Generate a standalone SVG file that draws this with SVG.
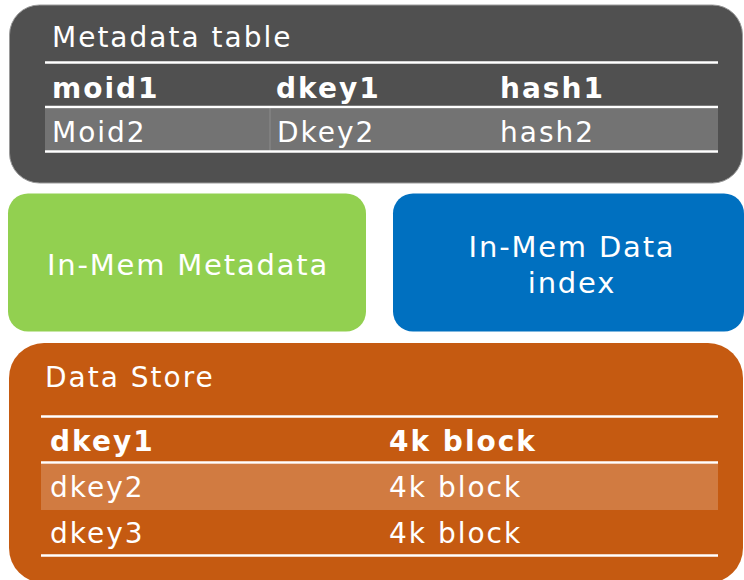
<svg xmlns="http://www.w3.org/2000/svg" width="744" height="580" viewBox="0 0 744 580">
<style>
text{font-family:"DejaVu Sans","Verdana",sans-serif;fill:#ffffff;font-size:28px;letter-spacing:2px}
.b{font-weight:bold}
.big{font-size:29px;letter-spacing:1.8px;text-anchor:middle}
.rule{stroke:#ffffff;stroke-width:2.5}
</style>
<rect width="744" height="580" fill="#ffffff"/>
<g id="metadata-table">
<rect x="9.5" y="5" width="733" height="178" rx="30" ry="30" fill="#505050" stroke="#9a9a9a" stroke-width="1"/>
<text x="52" y="47">Metadata table</text>
<rect x="45" y="108.5" width="673" height="42" fill="#737373"/>
<line x1="270" y1="108.5" x2="270" y2="150.5" stroke="#8c8c8c" stroke-width="1"/>
<line class="rule" x1="45" y1="62.5" x2="718" y2="62.5"/>
<line class="rule" x1="45" y1="107" x2="718" y2="107"/>
<line class="rule" x1="45" y1="151.5" x2="718" y2="151.5"/>
<text class="b" x="52" y="98">moid1</text>
<text class="b" x="276" y="98">dkey1</text>
<text class="b" x="500" y="98">hash1</text>
<text x="52" y="142">Moid2</text>
<text x="277" y="142">Dkey2</text>
<text x="500" y="142">hash2</text>
</g>
<g id="in-mem-metadata">
<rect x="8" y="193.5" width="358" height="138" rx="20" ry="20" fill="#92D050"/>
<text class="big" x="188" y="275">In-Mem Metadata</text>
</g>
<g id="in-mem-data-index">
<rect x="393" y="193.5" width="351" height="138" rx="20" ry="20" fill="#0070C0"/>
<text class="big" x="572" y="257">In-Mem Data</text>
<text class="big" x="572" y="293">index</text>
</g>
<g id="data-store">
<rect x="9" y="343" width="734" height="240" rx="35" ry="35" fill="#C55A11"/>
<text x="45" y="387">Data Store</text>
<rect x="41" y="464" width="677" height="46" fill="#D17B41"/>
<line class="rule" x1="41" y1="416.5" x2="718" y2="416.5"/>
<line class="rule" x1="41" y1="462.5" x2="718" y2="462.5"/>
<line class="rule" x1="41" y1="555.5" x2="718" y2="555.5"/>
<text class="b" x="50" y="451">dkey1</text>
<text class="b" x="389" y="451">4k block</text>
<text x="50" y="497">dkey2</text>
<text x="389" y="497">4k block</text>
<text x="50" y="543">dkey3</text>
<text x="389" y="543">4k block</text>
</g>
<g id="connectors"></g>
</svg>
